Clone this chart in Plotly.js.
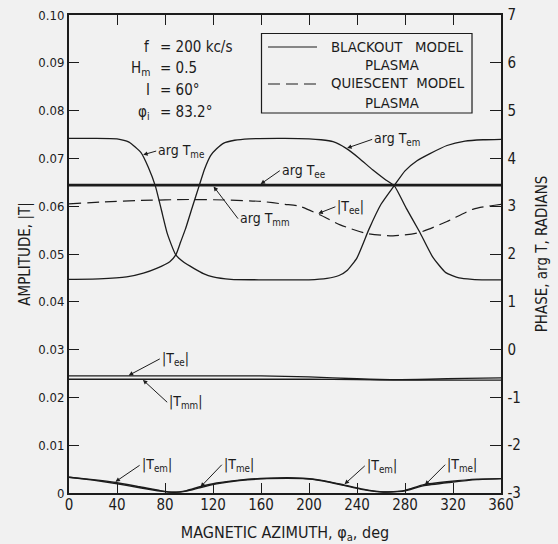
<!DOCTYPE html>
<html>
<head>
<meta charset="utf-8">
<script src="https://cdn.plot.ly/plotly-3.0.1.min.js"></script>
<style>
html,body{margin:0;padding:0;background:#f1f1f1;}
#chart{width:558px;height:544px;}
</style>
</head>
<body>
<div id="chart"></div>
<script>
// ---------- data ----------
// phase curves (right axis, radians)
const azArgTme = [0,20,40,50,60,66,72,77,82,89,96,104,112,120,135,160,180,200,215,225,232,240,250,260,271,280,290,300,315,330,345,360];
const argTme   = [4.42,4.42,4.41,4.34,4.12,3.82,3.42,2.92,2.42,1.98,1.82,1.70,1.59,1.52,1.47,1.46,1.46,1.46,1.49,1.55,1.66,1.92,2.52,3.04,3.43,3.74,3.95,4.09,4.27,4.36,4.39,4.40];

const azArgTem = [0,25,48,62,73,84,89,93,97,103,108.5,113,118,123,129,138,150,180,200,210,220,231,242,253,264,271,281,292,303,314,325,336,348,360];
const argTem   = [1.47,1.48,1.52,1.60,1.70,1.84,1.98,2.25,2.52,3.00,3.43,3.78,4.06,4.20,4.32,4.38,4.41,4.42,4.41,4.39,4.35,4.21,4.00,3.76,3.55,3.43,2.96,2.47,1.94,1.61,1.50,1.47,1.46,1.46];

const azFlat  = [0,60,120,160,200,240,270,300,330,360];
const argTee  = [3.45,3.45,3.45,3.45,3.45,3.45,3.45,3.45,3.45,3.45];
const argTmm  = [3.43,3.43,3.43,3.43,3.43,3.43,3.43,3.43,3.43,3.43];

// amplitude curves (left axis)
const ampTee  = [0.0245,0.0245,0.0245,0.0245,0.0243,0.0239,0.0237,0.0238,0.0240,0.0241];
const ampTmm  = [0.0238,0.0238,0.0238,0.0238,0.0238,0.0237,0.0236,0.0236,0.0236,0.0236];

const azQuiet  = [0,30,60,100,130,160,180,192,209,226,248,270,292,315,337,360];
const teeQuiet = [0.0605,0.0609,0.0612,0.0614,0.0613,0.0610,0.0604,0.0600,0.0582,0.0561,0.0543,0.0538,0.0545,0.0568,0.0594,0.0604];

const azSmall = [0,20,39,59,76,87,98,109,123,142,165,195,212,229,245,262,279,295,317,340,360];
const ampTem  = [0.0033,0.0028,0.0022,0.0013,0.0005,0.00015,0.0005,0.0013,0.0021,0.0027,0.0031,0.0031,0.0026,0.0017,0.0008,0.0002,0.0005,0.0017,0.0024,0.0029,0.0030];
const ampTme  = [0.0033,0.0027,0.0020,0.0011,0.0004,0.00015,0.0004,0.0011,0.0019,0.0026,0.0030,0.0030,0.0025,0.0016,0.0007,0.0002,0.0004,0.0015,0.0022,0.0028,0.0030];

// ticks
const xTicks = [0,40,80,120,160,200,240,280,320,360];
const yTicks = [0,0.01,0.02,0.03,0.04,0.05,0.06,0.07,0.08,0.09,0.10];
const yTickText = ['0','0.01','0.02','0.03','0.04','0.05','0.06','0.07','0.08','0.09','0.10'];
const y2Ticks = [-3,-2,-1,0,1,2,3,4,5,6,7];
const y2TickText = ['-3','-2','-1','0','1','2','3','4','5','6','7'];

// ---------- styling ----------
const FONT = '"Liberation Sans Narrow", "DejaVu Sans Condensed", "Liberation Sans", sans-serif';
const WIDE = '"DejaVu Sans", "Liberation Sans", sans-serif';
const INK = '#1c1c1c';
const BG = '#f1f1f1';
const NB = '\u00a0';

function interp(xs, ys, x){
  for (let i=0;i<xs.length-1;i++){
    if (x>=xs[i] && x<=xs[i+1]){
      const t=(x-xs[i])/(xs[i+1]-xs[i]);
      return ys[i]+t*(ys[i+1]-ys[i]);
    }
  }
  return ys[ys.length-1];
}

function line(x,y,opts){
  return Object.assign({x:x,y:y,type:'scatter',mode:'lines',showlegend:false,hoverinfo:'skip',
    line:{color:INK,width:1.3,shape:'spline',smoothing:0.5}},opts||{});
}

const traces = [
  line(azArgTme,argTme,{yaxis:'y2',name:'arg Tme'}),
  line(azArgTem,argTem,{yaxis:'y2',name:'arg Tem'}),
  line(azFlat,argTee,{yaxis:'y2',name:'arg Tee',line:{color:INK,width:1.8}}),
  line(azFlat,argTmm,{yaxis:'y2',name:'arg Tmm',line:{color:INK,width:1.8}}),
  line(azQuiet,teeQuiet,{name:'|Tee| quiescent',line:{color:INK,width:1.2,dash:'12px,6px',shape:'spline',smoothing:0.6}}),
  line(azFlat,ampTee,{name:'|Tee|'}),
  line(azFlat,ampTmm,{name:'|Tmm|'}),
  line(azSmall,ampTem,{name:'|Tem|',line:{color:INK,width:1.4,shape:'spline',smoothing:0.5}}),
  line(azSmall,ampTme,{name:'|Tme|',line:{color:INK,width:1.4,shape:'spline',smoothing:0.5}})
];

const tf = {family:FONT,size:14,color:INK};

function lab(text, az, yv, ax, ay, yref){
  return {text:text,x:az,y:yv,xref:'x',yref:yref||'y',ax:ax,ay:ay,xanchor:'left',yanchor:'middle',
    showarrow:true,arrowhead:2,arrowsize:0.9,arrowwidth:1,arrowcolor:INK,font:tf,standoff:1};
}
function txt(text,x,y,xanchor){
  return {text:text,x:x,y:y,xref:'x',yref:'y',showarrow:false,xanchor:xanchor,yanchor:'middle',font:{family:FONT,size:15,color:INK}};
}
function ptxt(text,x,y,xanchor){
  return {text:text,x:x,y:y,xref:'paper',yref:'paper',showarrow:false,xanchor:xanchor,yanchor:'middle',font:{family:WIDE,size:13.3,color:INK}};
}

const annotations = [
  // parameters
  txt('f',69,0.0933,'right'), txt('= 200 kc/s',74,0.0933,'left'),
  txt('H<sub>m</sub>',69,0.0889,'right'), txt('= 0.5',74,0.0889,'left'),
  txt('I',69,0.0843,'right'), txt('= 60°',74,0.0843,'left'),
  txt('φ<sub>i</sub>',69,0.0797,'right'), txt('= 83.2°',74,0.0797,'left'),
  // legend text
  ptxt('BLACKOUT'+NB+NB+NB+'MODEL',0.602,0.933,'left'),
  ptxt('PLASMA',0.748,0.895,'center'),
  ptxt('QUIESCENT'+NB+NB+'MODEL',0.602,0.856,'left'),
  ptxt('PLASMA',0.748,0.814,'center'),
  // curve labels
  lab('arg T<sub>me</sub>',61,interp(azArgTme,argTme,61),14,-4,'y2'),
  lab('arg T<sub>em</sub>',231,interp(azArgTem,argTem,231),26,-9,'y2'),
  lab('arg T<sub>ee</sub>',159,argTee[0],20,-14,'y2'),
  lab('arg T<sub>mm</sub>',120,argTmm[0],25,33,'y2'),
  lab('|T<sub>ee</sub>|',207,interp(azQuiet,teeQuiet,207),18,-7),
  lab('|T<sub>ee</sub>|',49,interp(azFlat,ampTee,49),32,-17),
  lab('|T<sub>mm</sub>|',61,interp(azFlat,ampTmm,61),25,23),
  lab('|T<sub>em</sub>|',38,interp(azSmall,ampTem,38),25,-17),
  lab('|T<sub>me</sub>|',109,interp(azSmall,ampTme,109),22,-23),
  lab('|T<sub>em</sub>|',229,interp(azSmall,ampTem,229),21,-19),
  lab('|T<sub>me</sub>|',296,interp(azSmall,ampTme,296),21,-21)
];

const shapes = [
  {type:'rect',xref:'paper',yref:'paper',x0:0.4456,x1:0.9329,y0:0.795,y1:0.9613,line:{color:INK,width:1.2}},
  {type:'line',xref:'paper',yref:'paper',x0:0.4606,x1:0.5741,y0:0.9331,y1:0.9331,line:{color:INK,width:1.2}},
  {type:'line',xref:'paper',yref:'paper',x0:0.4606,x1:0.5741,y0:0.8556,y1:0.8556,line:{color:INK,width:1.2,dash:'12px,6px'}}
];

const layout = {
  width:558,height:544,
  margin:{l:69,r:57,t:15,b:51,pad:0},
  paper_bgcolor:BG,plot_bgcolor:BG,
  font:{family:FONT,color:INK,size:14},
  showlegend:false,
  xaxis:{range:[0,360],tickvals:xTicks,ticktext:xTicks.map(String),ticks:'inside',ticklen:10,tickwidth:1,tickcolor:INK,
    showline:true,linewidth:2,linecolor:INK,mirror:'ticks',showgrid:false,zeroline:false,ticklabelstandoff:-3,
    tickfont:{family:FONT,size:15,color:INK},
    title:{text:'MAGNETIC AZIMUTH, φ<sub>a</sub>, deg',font:{family:FONT,size:16,color:INK},standoff:16}},
  yaxis:{range:[0,0.1],tickvals:yTicks,ticktext:yTickText,ticks:'inside',ticklen:10,tickwidth:1,tickcolor:INK,
    showline:true,linewidth:2,linecolor:INK,showgrid:false,zeroline:false,
    tickfont:{family:FONT,size:13,color:INK},
    title:{text:'AMPLITUDE, |T|',font:{family:FONT,size:15,color:INK},standoff:4}},
  yaxis2:{range:[-3,7],tickvals:y2Ticks,ticktext:y2TickText,ticks:'inside',ticklen:11,tickwidth:1,tickcolor:INK,overlaying:'y',side:'right',
    showline:true,linewidth:1.5,linecolor:INK,showgrid:false,zeroline:false,ticklabelstandoff:2,
    tickfont:{family:FONT,size:15,color:INK},
    title:{text:'PHASE, arg T, RADIANS',font:{family:FONT,size:15,color:INK},standoff:16}},
  annotations:annotations,
  shapes:shapes
};

Plotly.newPlot('chart',traces,layout,{displayModeBar:false,staticPlot:true});
</script>
</body>
</html>
